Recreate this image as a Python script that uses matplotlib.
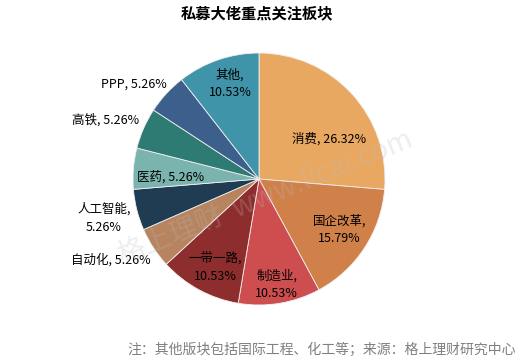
import matplotlib
matplotlib.use("Agg")
import matplotlib.pyplot as plt

plt.rcParams['font.family'] = ['Noto Sans CJK SC', 'DejaVu Sans']

# data
sectors = ['消费', '国企改革', '制造业', '一带一路', '自动化',
           '人工智能', '医药', '高铁', 'PPP', '其他']
shares = [26.32, 15.79, 10.53, 10.53, 5.26, 5.26, 5.26, 5.26, 5.26, 10.53]
label_text = ['消费, 26.32%', '国企改革,\n15.79%', '制造业,\n10.53%',
              '一带一路,\n10.53%', '自动化, 5.26%', '人工智能,\n5.26%',
              '医药, 5.26%', '高铁, 5.26%', 'PPP, 5.26%', '其他,\n10.53%']

colors = ['#E9A862', '#D08049', '#CE4D4E', '#8E2D2D', '#B7845F',
          '#1F3C52', '#7BB3AE', '#2D7B72', '#3C5F8B', '#3F94A9']
# label centres, in units of pie radius
label_pos = [(0.56, 0.32), (0.64, -0.40), (0.14, -0.84), (-0.35, -0.70),
             (-1.18, -0.64), (-1.23, -0.31), (-0.70, 0.02), (-1.22, 0.47),
             (-0.99, 0.75), (-0.23, 0.76)]

W, H = 529, 362
cx, cy, R = 259, 179, 126

fig = plt.figure(figsize=(W / 100, H / 100), dpi=100)
ax = fig.add_axes([0, 0, 1, 1])

ax.pie(shares, colors=colors, startangle=90, counterclock=False, radius=1,
       wedgeprops=dict(edgecolor='#f0f0f0', linewidth=0.6))
ax.set_aspect('equal')
ax.set_xlim(-cx / R, (W - cx) / R)
ax.set_ylim(-(H - cy) / R, cy / R)
ax.axis('off')

for txt, (x, y) in zip(label_text, label_pos):
    ax.text(x, y, txt, ha='center', va='center', fontsize=9,
            color='black', linespacing=1.45)

# faint watermark
ax.text(0.05, -0.15, '格上理财  www.licai.com', ha='center', va='center',
        fontsize=20, color='#bbbbbb', alpha=0.25, rotation=22)

fig.text(257 / W, 1 - 13 / H, '私募大佬重点关注板块', ha='center', va='center',
         fontsize=11, fontweight='bold')
fig.text(516 / W, 1 - 350 / H, '注：其他版块包括国际工程、化工等；来源：格上理财研究中心',
         ha='right', va='center', fontsize=10, color='#7f7f7f')

fig.savefig('out.png', dpi=100)
